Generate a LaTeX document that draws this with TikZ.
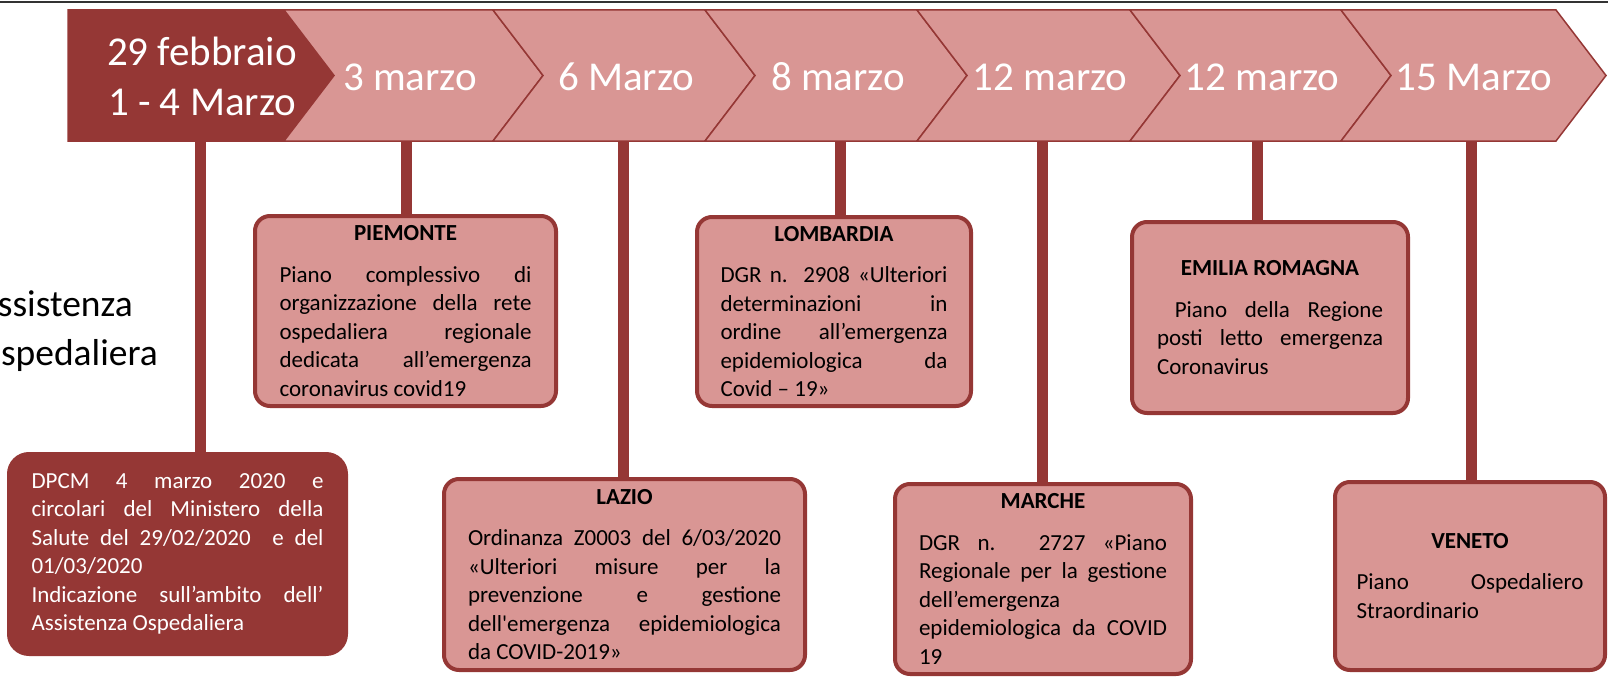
\documentclass[tikz,border=0pt]{standalone}
\usepackage{fontspec}
\setmainfont{Carlito}
\definecolor{darkred}{HTML}{953735}
\definecolor{rosered}{HTML}{D99694}
\setlength{\parindent}{0pt}
\hyphenpenalty=10000
\exhyphenpenalty=10000
\tolerance=10000
\begin{document}
\begin{tikzpicture}[x=1pt, y=-1pt]
      \tikzstyle{chev}=[draw=darkred, line width=1.5pt, fill=rosered]
      \tikzstyle{date}=[text=white, font=\fontsize{41}{50}\selectfont,
                        align=center, inner sep=0pt]
      \tikzstyle{regbox}=[draw=darkred, line width=4pt, fill=rosered,
                          rounded corners=15pt, align=justify, inner sep=0pt,
                          font=\fontsize{23}{28.5}\selectfont]
      \tikzstyle{stem}=[draw=darkred, line width=11pt]
      \useasboundingbox (0,0) rectangle (1608,677);
      \clip (0,0) rectangle (1608,677);
      \draw[black!80, line width=2pt] (0,2.5) -- (1608,2.5);
      \draw[chev, fill=darkred] (68,10) -- (284,10) -- (334,75.5) -- (284,141) -- (68,141) -- cycle;
      \draw[chev] (284,10) -- (493,10) -- (543,75.5) -- (493,141) -- (284,141) -- (334,75.5) -- cycle;
      \draw[chev] (493,10) -- (705,10) -- (755,75.5) -- (705,141) -- (493,141) -- (543,75.5) -- cycle;
      \draw[chev] (705,10) -- (917,10) -- (967,75.5) -- (917,141) -- (705,141) -- (755,75.5) -- cycle;
      \draw[chev] (917,10) -- (1130,10) -- (1180,75.5) -- (1130,141) -- (917,141) -- (967,75.5) -- cycle;
      \draw[chev] (1130,10) -- (1341,10) -- (1391,75.5) -- (1341,141) -- (1130,141) -- (1180,75.5) -- cycle;
      \draw[chev] (1341,10) -- (1556,10) -- (1606,75.5) -- (1556,141) -- (1341,141) -- (1391,75.5) -- cycle;
      \node[date] (feb29) at (202,76) {29 febbraio\\1 - 4 Marzo};
      \node[date, anchor=base] (mar3)  at (410,90)  {3 marzo};
      \node[date, anchor=base] (mar6)  at (626,90)  {6 Marzo};
      \node[date, anchor=base] (mar8)  at (838,90)  {8 marzo};
      \node[date, anchor=base] (mar12a) at (1050,90) {12 marzo};
      \node[date, anchor=base] (mar12b) at (1262,90) {12 marzo};
      \node[date, anchor=base] (mar15) at (1474,90) {15 Marzo};
      \node[font=\fontsize{37.5}{49}\selectfont, align=left, anchor=north west,
            inner sep=0pt] (ambito) at (-24,290) {Assistenza\\Ospedaliera};
      \node[regbox, fill=darkred, text=white, rounded corners=20pt,
            minimum width=337pt, minimum height=200pt, text width=292pt]
            (dpcm) at (177.5,554) {DPCM 4 marzo 2020 e\linebreak circolari del Ministero della\linebreak
            Salute del 29/02/2020 \ e del\linebreak 01/03/2020\par
            Indicazione sull’ambito dell’\linebreak Assistenza Ospedaliera};
      \node[regbox, minimum width=301pt, minimum height=190pt, text width=252pt]
            (piemonte) at (405.5,311) {{\centering\textbf{PIEMONTE}\par}\vspace{13pt}
            Piano complessivo di\linebreak organizzazione della rete\linebreak
            ospedaliera regionale\linebreak dedicata all’emergenza\linebreak coronavirus covid19};
      \node[regbox, minimum width=361pt, minimum height=191pt, text width=313pt]
            (lazio) at (624.5,574.5) {{\centering\textbf{LAZIO}\par}\vspace{13pt}
            Ordinanza Z0003 del 6/03/2020\linebreak «Ulteriori misure per la\linebreak
            prevenzione e gestione\linebreak dell\textquotesingle emergenza epidemiologica\linebreak
            da COVID-2019»};
      \node[regbox, minimum width=274pt, minimum height=189pt, text width=227pt]
            (lombardia) at (834,311.5) {{\centering\textbf{LOMBARDIA}\par}\vspace{13pt}
            DGR n. 2908 «Ulteriori\linebreak determinazioni in\linebreak
            ordine all’emergenza\linebreak epidemiologica da\linebreak Covid – 19»};
      \node[regbox, minimum width=296pt, minimum height=190pt, text width=248pt]
            (marche) at (1043,579) {{\centering\textbf{MARCHE}\par}\vspace{13pt}
            DGR n. 2727 «Piano\linebreak Regionale per la gestione\linebreak
            dell’emergenza\par epidemiologica da COVID\linebreak 19};
      \node[regbox, minimum width=276pt, minimum height=191pt, text width=226pt]
            (emilia) at (1270,317.5) {{\centering\textbf{EMILIA ROMAGNA}\par}\vspace{13pt}
            \ Piano della Regione\linebreak posti letto emergenza\linebreak Coronavirus};
      \node[regbox, minimum width=270pt, minimum height=188pt, text width=227pt]
            (veneto) at (1470,576) {{\centering\textbf{VENETO}\par}\vspace{13pt}
            Piano Ospedaliero\linebreak Straordinario};
      \coordinate (pin1) at (200,141);
      \coordinate (pin2) at (406,141);
      \coordinate (pin3) at (623,141);
      \coordinate (pin4) at (840,141);
      \coordinate (pin5) at (1042,141);
      \coordinate (pin6) at (1257,141);
      \coordinate (pin7) at (1471,141);
      \draw[stem] (pin1) -- (pin1 |- dpcm.north);
      \draw[stem] (pin2) -- (pin2 |- piemonte.north);
      \draw[stem] (pin3) -- (pin3 |- lazio.north);
      \draw[stem] (pin4) -- (pin4 |- lombardia.north);
      \draw[stem] (pin5) -- (pin5 |- marche.north);
      \draw[stem] (pin6) -- (pin6 |- emilia.north);
      \draw[stem] (pin7) -- (pin7 |- veneto.north);
    \end{tikzpicture}
\end{document}
